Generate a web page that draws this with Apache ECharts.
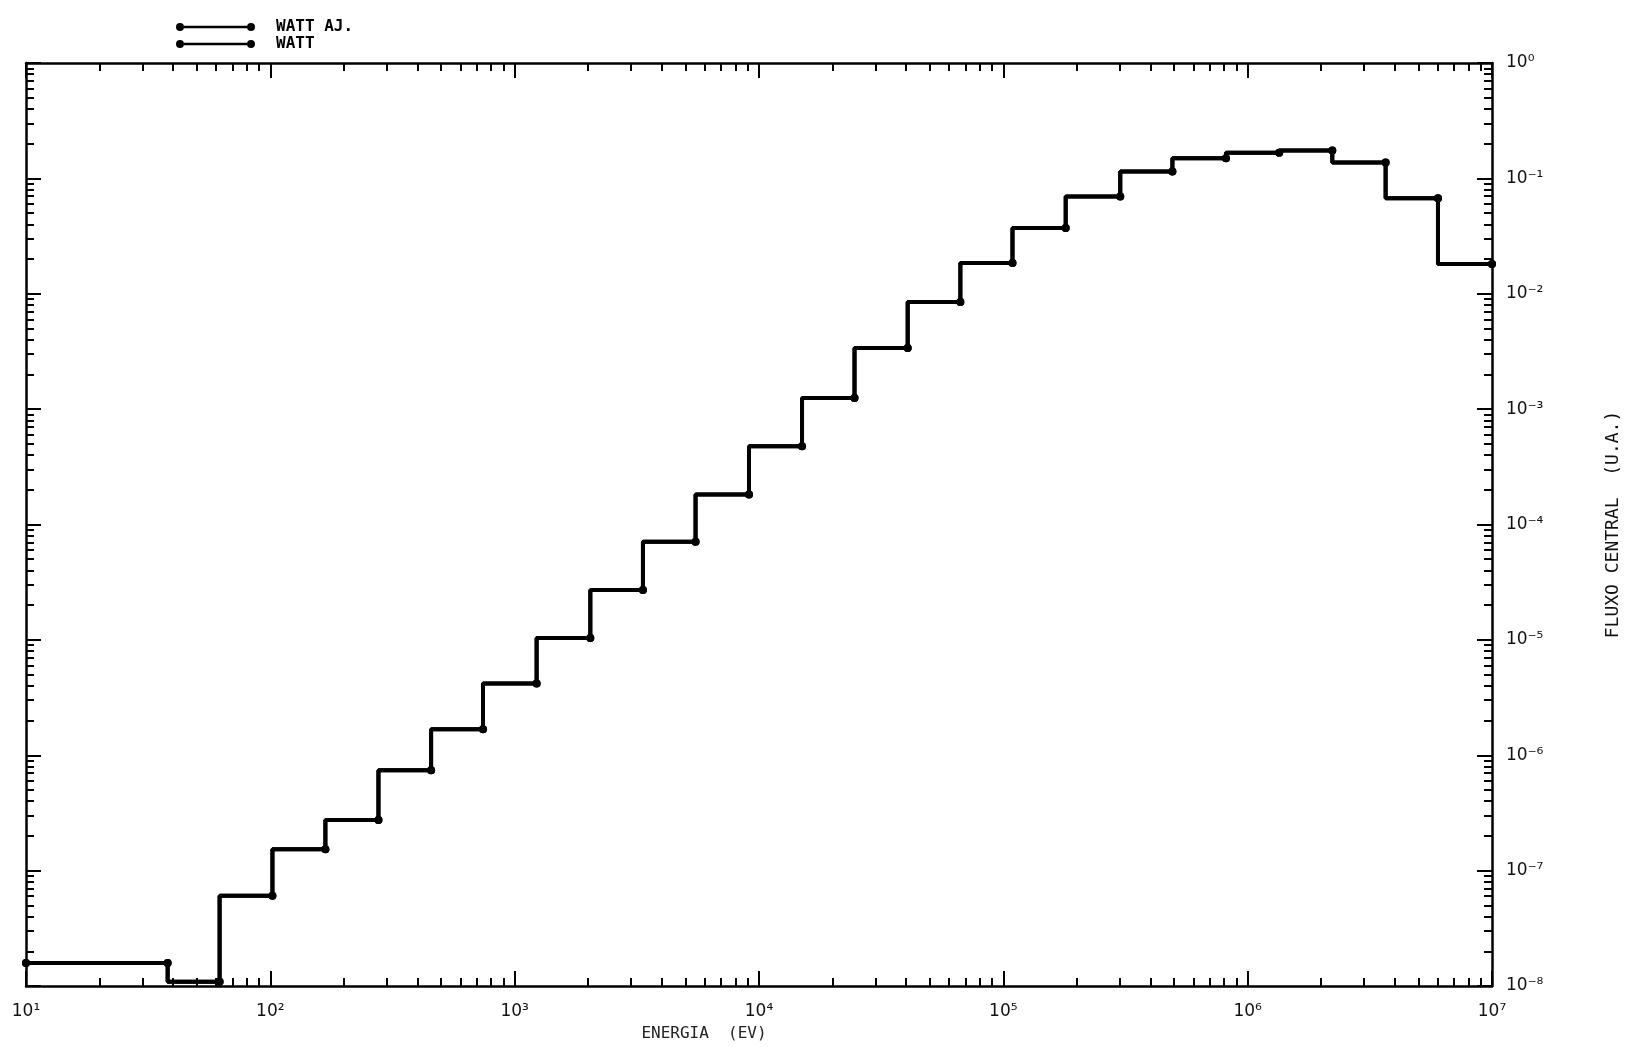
<!DOCTYPE html>
<html>
<head>
<meta charset="utf-8">
<title>Fluxo central</title>
<style>
  html, body { margin: 0; padding: 0; background: #fff; }
  #chart { width: 1630px; height: 1047px; }
</style>
</head>
<body>
<div id="chart"></div>
<script src="https://cdn.jsdelivr.net/npm/echarts@6/dist/echarts.min.js"></script>
<script>
// energia (eV) no limite superior de cada grupo (o primeiro ponto e o inicio)
var energia = [10, 38, 62, 102, 168, 277, 455, 742, 1230, 2040, 3350, 5500, 9100, 15000,
               24600, 40600, 66700, 109000, 180000, 301000, 492000, 815000, 1346000,
               2220000, 3670000, 6010000, 10000000];
// fluxo central (U.A.) de cada grupo
var fluxo = [1.58e-8, 1.58e-8, 1.09e-8, 6.05e-8, 1.53e-7, 2.75e-7, 7.41e-7, 1.68e-6, 4.18e-6,
             1.04e-5, 2.70e-5, 7.08e-5, 1.82e-4, 4.76e-4, 1.25e-3, 3.39e-3, 8.48e-3, 1.85e-2,
             3.71e-2, 6.96e-2, 0.1145, 0.1496, 0.167, 0.174, 0.137, 0.0674, 0.0181];
var nomes = ['WATT AJ.', 'WATT'];
// rotulos das decadas
var xLabels = ['10¹', '10²', '10³', '10⁴', '10⁵', '10⁶', '10⁷'];
var yLabels = ['10⁰', '10⁻¹', '10⁻²', '10⁻³', '10⁻⁴', '10⁻⁵', '10⁻⁶', '10⁻⁷', '10⁻⁸'];

// posicoes das marcas menores (2..9 em cada decada), em expoente
function menores(e0, e1) {
    var res = [];
    for (var e = e0; e < e1; e++) {
        for (var k = 2; k <= 9; k++) {
            res.push(e + Math.log10(k));
        }
    }
    return res;
}

var preto = '#000';
var fonte = 'DejaVu Sans';

function eixo(pos, min, max, comp, valores, rotulo) {
    var ax = {
        type: 'value',
        position: pos,
        min: min,
        max: max,
        interval: 1,
        axisLine: { show: !valores, onZero: false, lineStyle: { color: preto, width: 2.5 } },
        axisTick: { show: true, inside: true, length: comp, lineStyle: { color: preto, width: 2 } },
        axisLabel: { show: false },
        splitLine: { show: false }
    };
    if (valores) {
        ax.axisTick.customValues = valores;
    }
    if (rotulo) {
        ax.axisLabel = {
            show: true,
            color: '#111',
            fontFamily: fonte,
            fontSize: 17,
            formatter: rotulo
        };
    }
    return ax;
}

var myChart = echarts.init(document.getElementById('chart'));

var xMaior = eixo('bottom', 1, 7, 15, null, function (v) { return xLabels[Math.round(v) - 1]; });
xMaior.axisLabel.margin = 17;
xMaior.name = 'ENERGIA  (EV)';
xMaior.nameLocation = 'middle';
xMaior.nameGap = 40;
xMaior.nameTextStyle = { fontFamily: 'DejaVu Sans Mono', fontSize: 16, color: '#222', padding: [0, 110, 0, 0] };

var yMaior = eixo('right', -8, 0, 15, null, function (v) { return yLabels[-Math.round(v)]; });
yMaior.axisLabel.margin = 14;
yMaior.axisLabel.padding = [0, 0, 12, 0];
yMaior.name = 'FLUXO CENTRAL  (U.A.)';
yMaior.nameLocation = 'middle';
yMaior.nameRotate = 90;
yMaior.nameGap = 112;
yMaior.nameTextStyle = { fontFamily: 'DejaVu Sans Mono', fontSize: 18, color: '#111' };

var option = {
    backgroundColor: '#fff',
    animation: false,
    grid: { left: 26, right: 137, top: 63, bottom: 60, containLabel: false },
    legend: {
        data: nomes,
        orient: 'vertical',
        left: 171,
        top: 14,
        itemWidth: 79,
        itemHeight: 8,
        itemGap: 1,
        icon: 'path://M0,4 a4,4 0 1,0 8,0 a4,4 0 1,0 -8,0 Z M8,2.8 L71,2.8 L71,5.2 L8,5.2 Z M71,4 a4,4 0 1,0 8,0 a4,4 0 1,0 -8,0 Z',
        itemStyle: { color: preto, borderWidth: 0 },
        lineStyle: { color: preto, width: 3 },
        textStyle: { fontFamily: 'DejaVu Sans Mono', fontWeight: 'bold', fontSize: 16, lineHeight: 14,
                     color: '#000', padding: [0, 0, 0, 16] },
        selectedMode: false
    },
    xAxis: [
        { type: 'log', logBase: 10, min: 10, max: 1e7, show: false },
        xMaior,
        eixo('bottom', 1, 7, 8, menores(1, 7)),
        eixo('top', 1, 7, 15, null),
        eixo('top', 1, 7, 8, menores(1, 7))
    ],
    yAxis: [
        { type: 'log', logBase: 10, min: 1e-8, max: 1, show: false },
        yMaior,
        eixo('right', -8, 0, 8, menores(-8, 0)),
        eixo('left', -8, 0, 15, null),
        eixo('left', -8, 0, 8, menores(-8, 0))
    ],
    series: nomes.map(function (nome) {
        return {
            name: nome,
            type: 'line',
            xAxisIndex: 0,
            yAxisIndex: 0,
            step: 'start',
            symbol: 'circle',
            symbolSize: 8,
            showAllSymbol: true,
            lineStyle: { color: preto, width: 4 },
            itemStyle: { color: preto },
            data: energia.map(function (e, i) { return [e, fluxo[i]]; })
        };
    })
};

myChart.setOption(option);
</script>
</body>
</html>
